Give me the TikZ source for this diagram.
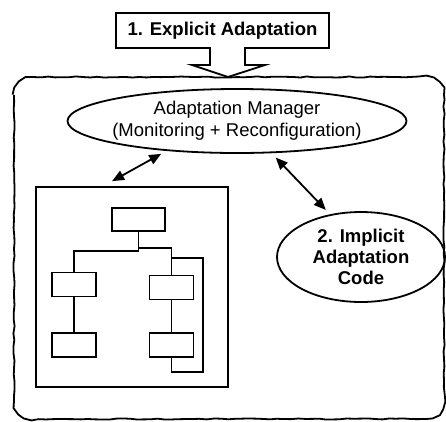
\documentclass[tikz,border=0pt]{standalone}
\usepackage{fontspec}
\setmainfont{Liberation Sans}
\usetikzlibrary{
	arrows.meta,
	positioning,
	calc,
	shapes.geometric,
	decorations.pathmorphing
}

\begin{document}
\pgfmathsetseed{7}
\begin{tikzpicture}[
		x=1pt,
		y=-1pt,
		line width=1.8pt,
		>={Triangle[length=12pt,width=10pt]},
		wobbly/.style={
			decorate,
			decoration={random steps,segment length=7pt,amplitude=0.6pt}
		},
		cloud/.style={
			ellipse,
			draw,
			inner sep=-6pt,
			align=center
		},
		block/.style={
			draw,
			minimum width=44pt,
			minimum height=24pt,
			inner sep=0pt
		},
		txt/.style={
			font=\fontsize{18.5}{22}\selectfont
		}
		]
		\useasboundingbox (0,0) rectangle (446,421);
		
		% Outer system
		\path[rounded corners=18pt, postaction={draw, sharp corners, wobbly}] (14,77) rectangle (444,419);
		
		% Explicit adaptation (block arrow)
		\draw[line join=miter] (116,13) -- (329,13) -- (329,48) -- (245,48) -- (245,65) -- (265,65)
			-- (228,77) -- (192,65) -- (210,65) -- (210,48) -- (116,48) -- cycle;
		\node[txt, font=\fontsize{18.5}{22}\selectfont\bfseries] (explicit) at (222.5,30.5) {1. Explicit Adaptation};
		
		% Adaptation manager
		\node[cloud, txt, minimum width=339pt, minimum height=64pt] (manager) at (237,121)
			{Adaptation Manager\\(Monitoring + Reconfiguration)};
		
		% Implicit adaptation
		\node[cloud, font=\fontsize{18.5}{21}\selectfont\bfseries, minimum width=168pt, minimum height=90pt] (implicit) at (361,257)
			{2. Implicit\\Adaptation\\Code};
		
		% Application
		\node[draw, minimum width=192pt, minimum height=200pt, inner sep=0pt] (app) at (132,287) {};
		\node[block, minimum width=53pt, minimum height=23pt] (top) at (138.5,219.5) {};
		\node[block] (lefta) at (74,284.5) {};
		\node[block] (righta) at (171.5,287.5) {};
		\node[block] (leftb) at (74,345) {};
		\node[block] (rightb) at (171.5,345) {};
		\coordinate (loopend) at (203,372);
		
		\draw (top.south) -- ++(0,19) -| (lefta.north);
		\draw (top.south) -- ++(0,16) -| (righta.north);
		\draw (lefta) -- (leftb);
		\draw (righta) -- (rightb);
		\draw ([yshift=17pt]righta.north) -| (loopend) -| (rightb.south);
		
		% Connections
		\draw[<->, shorten <=6pt] (manager.203) -- ([xshift=77pt,yshift=5pt]app.north west);
		\draw[<->, shorten <=6pt, shorten >=6pt] (manager.-43) -- (implicit.126);
		
	\end{tikzpicture}
\end{document}
